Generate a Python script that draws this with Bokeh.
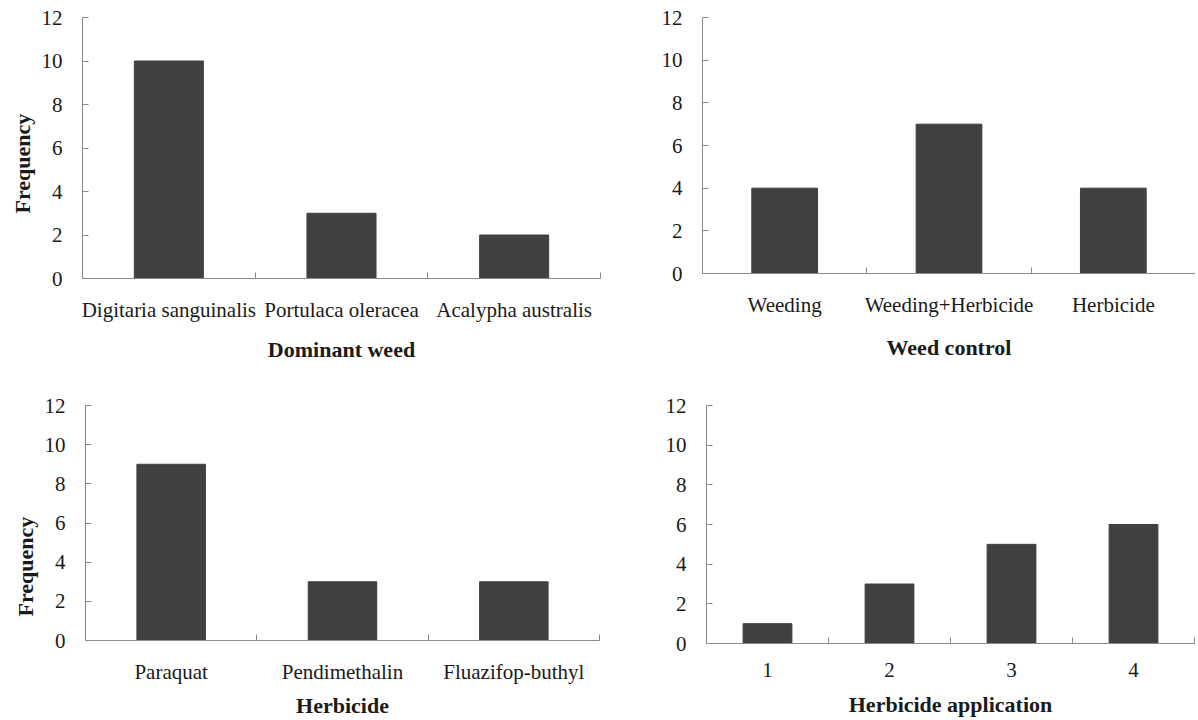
from bokeh.plotting import figure
from bokeh.layouts import column, row
from bokeh.models import Range1d, FixedTicker, Title
from bokeh.embed import file_html
from bokeh.resources import INLINE

# ---- data ----
weeds = ["Digitaria sanguinalis", "Portulaca oleracea", "Acalypha australis"]
weed_freq = [10, 3, 2]

controls = ["Weeding", "Weeding+Herbicide", "Herbicide"]
control_freq = [4, 7, 4]

herbicides = ["Paraquat", "Pendimethalin", "Fluazifop-buthyl"]
herbicide_freq = [9, 3, 3]

applications = ["1", "2", "3", "4"]
application_freq = [1, 3, 5, 6]

y_ticks = [0, 2, 4, 6, 8, 10, 12]
y_max = 12

FONT = "Liberation Serif"
AXIS_COLOR = "#8a8a8a"
BAR_COLOR = "#404040"
TEXT_COLOR = "#1a1a1a"


def panel(cats, vals, title, fw, fh, left, right, top, bottom,
          label_standoff=19, title_standoff=15, ylabel_offset=None):
    n = len(cats)
    p = figure(frame_width=fw, frame_height=fh,
               min_border_left=left, min_border_right=right,
               min_border_top=top, min_border_bottom=bottom,
               x_range=Range1d(0.5, n + 0.5), y_range=Range1d(0, y_max),
               output_backend="svg", toolbar_location=None)
    p.outline_line_color = None
    p.xgrid.visible = False
    p.ygrid.visible = False
    p.background_fill_color = "white"
    p.border_fill_color = "white"

    xs = list(range(1, n + 1))
    p.vbar(x=xs, top=vals, width=0.4, fill_color=BAR_COLOR,
           line_color=BAR_COLOR, line_width=1)

    # x axis: labels at category centres, ticks at category boundaries
    xa = p.xaxis[0]
    xa.ticker = FixedTicker(ticks=xs, minor_ticks=[x - 0.5 for x in xs] + [n + 0.5])
    xa.major_label_overrides = {x: c for x, c in zip(xs, cats)}
    xa.major_tick_in = 0
    xa.major_tick_out = 0
    xa.minor_tick_in = 6
    xa.minor_tick_out = 0
    xa.minor_tick_line_color = AXIS_COLOR
    xa.axis_line_color = AXIS_COLOR
    xa.major_label_text_font = FONT
    xa.major_label_text_font_size = "21px"
    xa.major_label_text_color = TEXT_COLOR
    xa.major_label_standoff = label_standoff
    xa.axis_label = title
    xa.axis_label_text_font = FONT
    xa.axis_label_text_font_size = "22px"
    xa.axis_label_text_font_style = "bold"
    xa.axis_label_text_color = TEXT_COLOR
    xa.axis_label_standoff = title_standoff

    ya = p.yaxis[0]
    ya.ticker = FixedTicker(ticks=y_ticks)
    ya.major_tick_in = 6
    ya.major_tick_out = 0
    ya.minor_tick_line_color = None
    ya.major_tick_line_color = AXIS_COLOR
    ya.axis_line_color = AXIS_COLOR
    ya.major_label_text_font = FONT
    ya.major_label_text_font_size = "21px"
    ya.major_label_text_color = TEXT_COLOR
    ya.major_label_standoff = 20

    if ylabel_offset is not None:
        p.add_layout(Title(text="Frequency", align="left", offset=ylabel_offset,
                           standoff=8, text_font=FONT, text_font_size="22px",
                           text_font_style="bold", text_color=TEXT_COLOR),
                     "left")
    return p


p1 = panel(weeds, weed_freq, "Dominant weed", 518, 261, 82, 10, 17, 92,
           title_standoff=12, ylabel_offset=65)
p2 = panel(controls, control_freq, "Weed control", 493, 256, 92, 0, 17, 97)
p3 = panel(herbicides, herbicide_freq, "Herbicide", 514, 235, 85, 11, 34, 81,
           title_standoff=6, ylabel_offset=24)
p4 = panel(applications, application_freq, "Herbicide application", 488, 238,
           96, 1, 35, 77, title_standoff=12)

layout = column(row(p1, p2), row(p3, p4))
open("out.html", "w").write(file_html(layout, INLINE))
